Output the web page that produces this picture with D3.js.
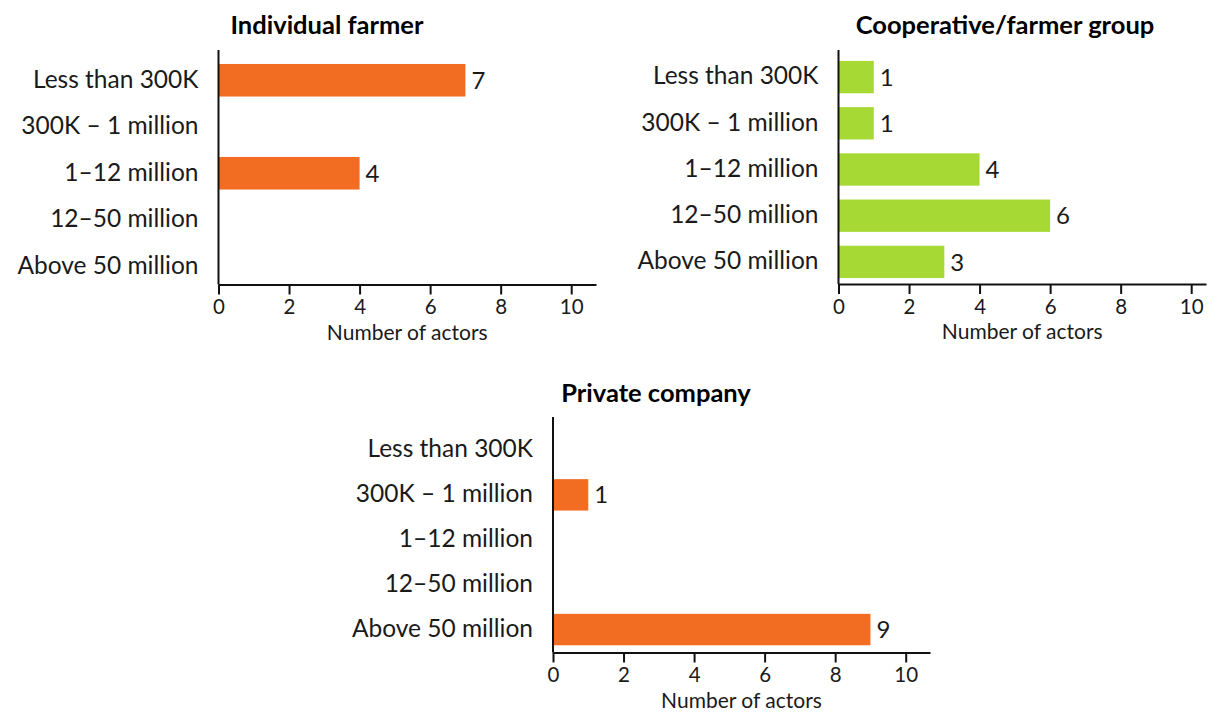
<!DOCTYPE html>
<html>
<head>
<meta charset="utf-8">
<script src="https://cdn.jsdelivr.net/npm/d3@7"></script>
<style>
  html, body { margin: 0; padding: 0; background: #fff; }
  svg { display: block; }
  text { font-family: Lato, "Open Sans", sans-serif; fill: #1a1a1a; }
</style>
</head>
<body>
<svg id="chart" width="1208" height="713"></svg>
<script>
// Annual turnover bands, shared by all three panels
const categories = ["Less than 300K", "300K \u2013 1 million", "1\u201312 million", "12\u201350 million", "Above 50 million"];

// Number of actors per turnover band, by actor type
const individualFarmer = [7, 0, 4, 0, 0];
const cooperativeGroup = [1, 1, 4, 6, 3];
const privateCompany   = [0, 1, 0, 0, 9];

const panelTitles = ["Individual farmer", "Cooperative/farmer group", "Private company"];
const xTicks = [0, 2, 4, 6, 8, 10];
const xAxisTitle = "Number of actors";

const ORANGE = "#F26C21";
const GREEN  = "#A6D933";

// Panel geometry (pixels)
const panels = [
  { values: individualFarmer, color: ORANGE, left: 218.5, right: 596,  top: 50,  bottom: 284.5, band: [57, 289.5],  titleX: 327,  titleY: 34 },
  { values: cooperativeGroup, color: GREEN,  left: 838.5, right: 1206, top: 50,  bottom: 284,   band: [54, 285],    titleX: 1005, titleY: 34 },
  { values: privateCompany,   color: ORANGE, left: 553,   right: 930,  top: 417, bottom: 652.5, band: [427.5, 652], titleX: 656,  titleY: 402 }
];
const PX_PER_UNIT = 35.27;

const svg = d3.select("#chart");

panels.forEach((p, i) => {
  const g = svg.append("g");

  const x = d3.scaleLinear()
    .domain([0, (p.right - p.left) / PX_PER_UNIT])
    .range([p.left, p.right]);

  const y = d3.scaleBand()
    .domain(categories)
    .range(p.band)
    .paddingInner(0.3)
    .paddingOuter(0.15);

  const rows = categories.map((c, k) => ({ cat: c, value: p.values[k] }));

  // Title
  g.append("text")
    .attr("x", p.titleX)
    .attr("y", p.titleY)
    .attr("text-anchor", "middle")
    .style("font-weight", 700)
    .style("font-size", "25.5px")
    .style("fill", "#000")
    .text(panelTitles[i]);

  // Bars
  g.selectAll("rect.bar")
    .data(rows.filter(d => d.value > 0))
    .join("rect")
    .attr("class", "bar")
    .attr("x", x(0))
    .attr("y", d => y(d.cat))
    .attr("width", d => x(d.value) - x(0))
    .attr("height", y.bandwidth())
    .attr("fill", p.color);

  // Value labels
  g.selectAll("text.val")
    .data(rows.filter(d => d.value > 0))
    .join("text")
    .attr("class", "val")
    .attr("x", d => x(d.value) + 6)
    .attr("y", d => y(d.cat) + y.bandwidth() / 2)
    .attr("dy", "0.36em")
    .style("font-size", "24px")
    .text(d => d.value);

  // Category axis (left)
  g.append("line")
    .attr("x1", x(0)).attr("x2", x(0))
    .attr("y1", p.top).attr("y2", p.bottom)
    .attr("stroke", "#111").attr("stroke-width", 2);

  g.selectAll("text.cat")
    .data(categories)
    .join("text")
    .attr("class", "cat")
    .attr("x", x(0) - 20)
    .attr("y", d => y(d) + y.bandwidth() / 2)
    .attr("dy", "0.3em")
    .attr("text-anchor", "end")
    .style("font-size", "24.5px")
    .text(d => d);

  // Value axis (bottom)
  const xAxis = d3.axisBottom(x)
    .tickValues(xTicks)
    .tickSize(10)
    .tickSizeOuter(0)
    .tickPadding(5)
    .tickFormat(d3.format("d"));

  const ax = g.append("g")
    .attr("transform", `translate(0,${p.bottom})`)
    .call(xAxis);
  ax.select(".domain").attr("stroke", "#111").attr("stroke-width", 2);
  ax.selectAll(".tick line").attr("stroke", "#111").attr("stroke-width", 2);
  ax.selectAll(".tick text")
    .style("font-family", "Lato, 'Open Sans', sans-serif")
    .style("font-size", "20.5px")
    .style("fill", "#1a1a1a");

  g.append("text")
    .attr("x", (p.left + p.right) / 2)
    .attr("y", p.bottom + 55)
    .attr("text-anchor", "middle")
    .style("font-size", "21px")
    .text(xAxisTitle);
});
</script>
</body>
</html>
